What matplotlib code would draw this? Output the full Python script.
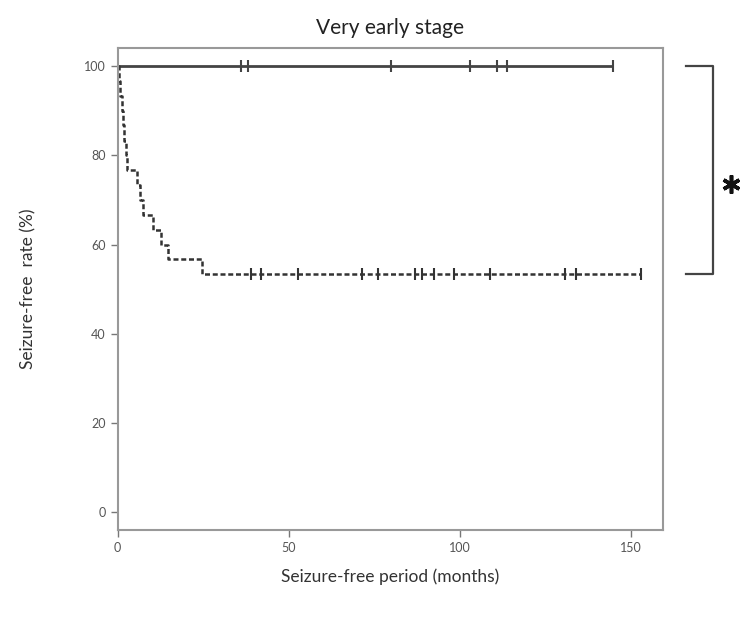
import numpy as np
import matplotlib
matplotlib.use("Agg")
import matplotlib.pyplot as plt

plt.rcParams['font.family'] = ['Lato', 'DejaVu Sans']

title = "Very early stage"
xlabel = "Seizure-free period (months)"
ylabel = "Seizure-free  rate (%)"

# Group A (solid): no events
solid_end = 145
solid_censor = [36, 38, 80, 103, 111, 114, 145]

# Group B (dashed): event times (months) and survival after each event (%)
dash_event_t = [0.3, 0.8, 1.2, 1.6, 2.0, 2.3, 2.6, 5.6, 6.6, 7.3, 10.2, 12.6, 14.6, 24.8]
dash_event_s = [96.7, 93.3, 90.0, 86.7, 83.3, 80.0, 76.7, 73.3, 70.0, 66.7, 63.3, 60.0, 56.7, 53.3]
dash_end = 153
dash_censor = [39, 42, 52.6, 71.5, 76, 87, 89, 92.5, 98.5, 109, 130.7, 134, 153]

xticks = [0, 50, 100, 150]
yticks = [0, 20, 40, 60, 80, 100]

fig = plt.figure(figsize=(7.4, 6.18), dpi=100)
ax = fig.add_axes([0.159, 0.142, 0.737, 0.780])

line_col = '#444444'
# solid curve
ax.plot([0, solid_end], [100, 100], color=line_col, lw=2.0, solid_capstyle='butt')
ax.plot(solid_censor, [100] * len(solid_censor), linestyle='none', marker='|',
        markersize=8, mew=1.5, color=line_col)

# dashed step curve
tx = [0] + dash_event_t + [dash_end]
sy = [100] + dash_event_s + [dash_event_s[-1]]
ax.step(tx, sy, where='post', color='#333333', lw=1.8, linestyle=(0, (2.0, 1.1)))
cy = [sy[np.searchsorted(tx, c, side='right') - 1] for c in dash_censor]
ax.plot(dash_censor, cy, linestyle='none', marker='|', markersize=8, mew=1.5,
        color='#333333')

ax.set_xlim(0, 159.5)
ax.set_ylim(-4, 104)
ax.set_xticks(xticks)
ax.set_yticks(yticks)
ax.tick_params(axis='both', direction='out', length=5, width=1, color='#777777',
               labelsize=9, labelcolor='#555555')
for sp in ax.spines.values():
    sp.set_color('#999999')
    sp.set_linewidth(1.5)

ax.set_title(title, fontsize=15, pad=10, color='#222222')
ax.set_xlabel(xlabel, fontsize=12.5, labelpad=10, color='#333333')
ax.set_ylabel(ylabel, fontsize=12.5, labelpad=34, color='#333333')

# significance bracket
trans = ax.get_yaxis_transform()
ax.plot([1.042, 1.092, 1.092, 1.042], [100, 100, 53.3, 53.3], transform=trans,
        color='#444444', lw=1.6, clip_on=False)
ax.plot([1.125], [73.6], transform=trans, linestyle='none', marker=(6, 2, 0),
        markersize=13, mew=2.6, color='#111111', clip_on=False)

fig.savefig('out.png', dpi=100)
